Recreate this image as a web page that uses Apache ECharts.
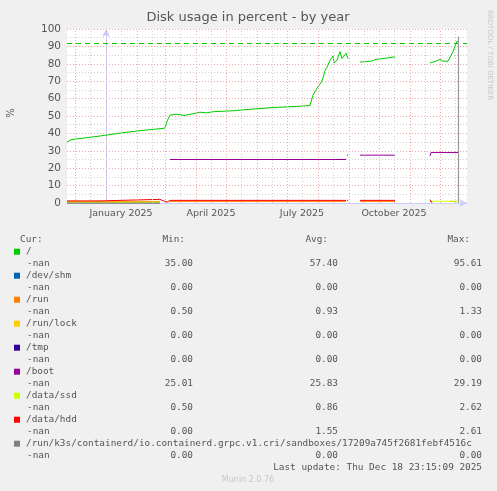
<!DOCTYPE html>
<html><head><meta charset="utf-8">
<script src="https://cdn.jsdelivr.net/npm/echarts@6/dist/echarts.min.js"></script>
<style>html,body{margin:0;padding:0;background:#f0f0f0}#c{width:497px;height:491px}</style>
</head><body><div id="c"></div>
<script>
// x = days since 2025-01-01
const monthLabels = [[15,'January 2025'],[105,'April 2025'],[196,'July 2025'],[288,'October 2025']];
const monthStarts = [-31,0,31,59,90,120,151,181,212,243,273,304,334];
const yTicks = [0,10,20,30,40,50,60,70,80,90,100];
const rootData = [[-39,35],[-37,35],[-35,36.3],[-30,36.8],[-20,37.5],[-10,38.2],[0,39],[10,39.8],[20,40.6],[30,41.3],[40,41.9],[50,42.5],[59,43],[61,47],[64,50.5],[70,51],[74,50.8],[78,50.3],[86,51.2],[94,52.2],[100,51.8],[108,52.5],[127,53],[147,54],[171,55],[190,55.5],[204,56],[207,62],[211,66],[216,70],[219,76],[221,78],[224,82],[227,84.5],[228,80.5],[231,82],[234,87],[236,83],[240,86],[242,83],[243,null],[254,81],[265,81.5],[270,82.5],[280,83.3],[289,84],[290,null],[324,80.5],[330,81.5],[334,82.5],[337,81.5],[342,81.5],[347,87],[351,93],[352,92.5]];
const bootData = [[64,25],[240,25],[240.5,null],[241,27.5],[242,27.5],[243,null],[254,27.5],[289,27.5],[290,null],[324,27],[325,29],[352,29]];
const hddData = [[-39,1.2],[-6,1.2],[-5,1.7],[34,1.8],[35,2.1],[54,2.1],[57,1.3],[59,0.3],[61,0.5],[64,1.5],[240,1.5],[240.5,null],[241,1.5],[242,1.5],[243,null],[254,1.5],[289,1.5],[290,null],[324,2],[326,0.2],[327,null]];
const ssdData = [[-39,0.5],[54,0.5],[55,null],[326,1],[351,1]];
const runData = [[-39,0.9],[54,0.9],[55,null],[64,0.9],[240,0.9],[241,null],[254,0.9],[289,0.9],[290,null],[324,0.9],[326,0.6],[327,null],[344,0.9],[351,0.9]];
const zeroData = [[-39,0],[54,0],[55,null]];
const warnLevel = 92;
const nowDay = 352;
const legendRows = [
 ['/','#00cc00','35.00','57.40','95.61'],
 ['/dev/shm','#0066b3','0.00','0.00','0.00'],
 ['/run','#ff8000','0.50','0.93','1.33'],
 ['/run/lock','#ffcc00','0.00','0.00','0.00'],
 ['/tmp','#330099','0.00','0.00','0.00'],
 ['/boot','#990099','25.01','25.83','29.19'],
 ['/data/ssd','#ccff00','0.50','0.86','2.62'],
 ['/data/hdd','#ff0000','0.00','1.55','2.61'],
 ['/run/k3s/containerd/io.containerd.grpc.v1.cri/sandboxes/17209a745f2681febf4516c','#808080','0.00','0.00','0.00']
];

const mono = 'DejaVu Sans Mono';
const g = [];
const T = (x,y,t,o={}) => g.push({type:'text',x,y,silent:true,style:Object.assign({text:t,font:'9.4px '+mono,fill:'#555',textVerticalAlign:'middle'},o)});
T(20,239.5,'Cur:');
T(185,239.5,'Min:',{textAlign:'right'});
T(328,239.5,'Avg:',{textAlign:'right'});
T(470,239.5,'Max:',{textAlign:'right'});
legendRows.forEach((r,i)=>{
  const y=251.7+i*24;
  g.push({type:'rect',shape:{x:14,y:y-3,width:6,height:6},style:{fill:r[1]},silent:true});
  T(26,y,r[0]);
  T(27,y+12,'-nan');
  T(193,y+12,r[2],{textAlign:'right'});
  T(338,y+12,r[3],{textAlign:'right'});
  T(482,y+12,r[4],{textAlign:'right'});
});
T(482,467.7,'Last update: Thu Dec 18 23:15:09 2025',{textAlign:'right'});
g.push({type:'text',x:248,y:480,silent:true,style:{text:'Munin 2.0.76',font:'8px DejaVu Sans',fill:'#c8c8c8',textAlign:'center',textVerticalAlign:'middle'}});
g.push({type:'text',x:248,y:18,silent:true,style:{text:'Disk usage in percent - by year',font:'13px DejaVu Sans',fill:'#555',textAlign:'center',textVerticalAlign:'middle'}});
g.push({type:'text',x:11,y:113,rotation:Math.PI/2,silent:true,style:{text:'%',font:'10px DejaVu Sans',fill:'#555',textAlign:'center',textVerticalAlign:'middle'}});
g.push({type:'text',x:490,y:55,rotation:-Math.PI/2,silent:true,style:{text:'RRDTOOL / TOBI OETIKER',font:'7px DejaVu Sans',fill:'#c8c8c8',textAlign:'center',textVerticalAlign:'middle'}});

const line = (name,data,color,w=1) => ({name,type:'line',data,showSymbol:false,connectNulls:false,animation:false,lineStyle:{color,width:w},itemStyle:{color},emphasis:{disabled:true},z:3});
const vlines = (days,color) => ({type:'line',data:[],silent:true,z:1,markLine:{silent:true,symbol:'none',label:{show:false},animation:false,
      lineStyle:{color,type:[1,2],width:1,opacity:1},emphasis:{disabled:true},data:days.map(d=>({xAxis:d}))}});

const chart = echarts.init(document.getElementById('c'));
chart.setOption({
  backgroundColor:'#f0f0f0',
  animation:false,
  grid:{left:67,top:29,width:400,height:174,backgroundColor:'#ffffff',show:true,borderWidth:0},
  xAxis:{type:'value',min:-39,max:361,
    axisLine:{lineStyle:{color:'#ccccff'},symbol:['none','arrow'],symbolSize:[6,8]},
    axisTick:{show:false},splitLine:{show:false},
    axisLabel:{customValues:monthLabels.map(m=>m[0]),formatter:v=>{const m=monthLabels.find(q=>q[0]===v);return m?m[1]:'';},color:'#555',fontFamily:'DejaVu Sans',fontSize:9.5,margin:6}},
  yAxis:{type:'value',min:0,max:100,interval:10,
    axisLine:{show:true,lineStyle:{color:'#ccccff'},symbol:['none','arrow'],symbolSize:[6,8]},
    axisTick:{show:false},
    axisLabel:{color:'#555',fontFamily:'DejaVu Sans',fontSize:10.5,margin:6,formatter:v=>yTicks.includes(v)?String(v):''},
    splitLine:{lineStyle:{color:'#f0a8a8',type:[1,2]}},
    minorTick:{show:false,splitNumber:2},
    minorSplitLine:{show:true,lineStyle:{color:'#d0d0d0',type:[1,2]}}},
  graphic:g,
  series:[
    vlines(monthStarts,'#f0a8a8'),
    vlines(monthStarts.map(d=>d+15),'#d0d0d0'),
    line('/dev/shm',zeroData,'#0066b3'),
    line('/run/lock',zeroData,'#ffcc00'),
    line('/tmp',zeroData,'#330099'),
    line('/run',runData,'#ff8000'),
    line('/data/ssd',ssdData,'#ccff00'),
    line('/data/hdd',hddData,'#ff0000'),
    line('/boot',bootData,'#990099'),
    line('/',rootData,'#00cc00'),
    {type:'line',data:[],silent:true,z:2,markLine:{silent:true,symbol:'none',label:{show:false},animation:false,
      lineStyle:{color:'#00cc00',type:[5,4],width:1,opacity:1},data:[{yAxis:warnLevel}]}},
    {type:'line',data:[],silent:true,z:4,markLine:{silent:true,symbol:'none',label:{show:false},animation:false,
      lineStyle:{color:'#999999',type:'solid',width:1.2,opacity:1},data:[[{coord:[nowDay,0]},{coord:[nowDay,95.6]}]]}}
  ]
});
</script></body></html>
